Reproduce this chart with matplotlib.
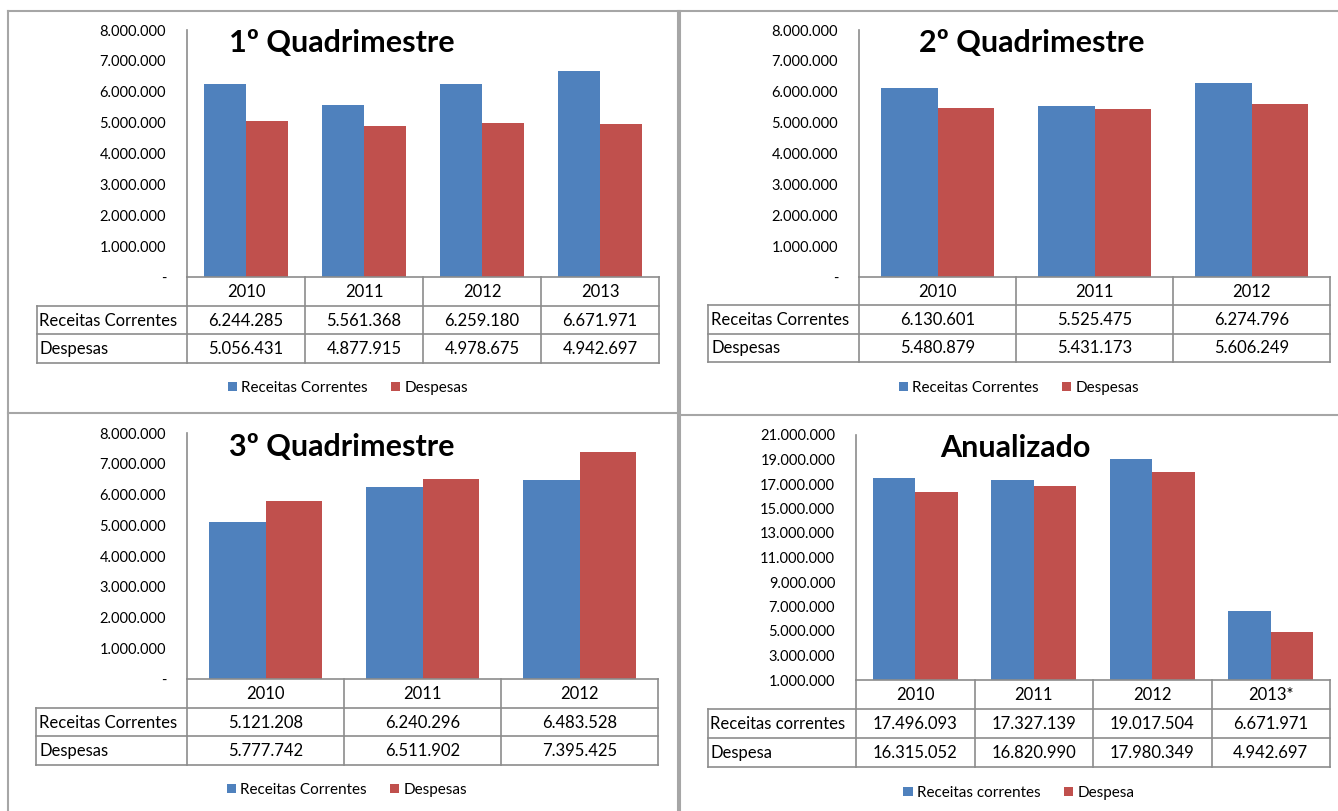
import matplotlib
matplotlib.use('Agg')
import matplotlib.pyplot as plt
from matplotlib.ticker import FuncFormatter

plt.rcParams['font.family'] = ['Lato', 'DejaVu Sans']

# dados (valores das tabelas)
anos_q1 = ['2010', '2011', '2012', '2013']
receitas_q1 = [6244285, 5561368, 6259180, 6671971]
despesas_q1 = [5056431, 4877915, 4978675, 4942697]

anos_q2 = ['2010', '2011', '2012']
receitas_q2 = [6130601, 5525475, 6274796]
despesas_q2 = [5480879, 5431173, 5606249]

anos_q3 = ['2010', '2011', '2012']
receitas_q3 = [5121208, 6240296, 6483528]
despesas_q3 = [5777742, 6511902, 7395425]

anos_anual = ['2010', '2011', '2012', '2013*']
receitas_anual = [17496093, 17327139, 19017504, 6671971]
despesas_anual = [16315052, 16820990, 17980349, 4942697]

ticks_quad = [0, 1e6, 2e6, 3e6, 4e6, 5e6, 6e6, 7e6, 8e6]
ticks_anual = [1e6, 3e6, 5e6, 7e6, 9e6, 11e6, 13e6, 15e6, 17e6, 19e6, 21e6]

AZUL = '#4F81BD'
VERMELHO = '#C0504D'
CINZA = '#8C8C8C'

W, H = 1338, 811
fig = plt.figure(figsize=(W / 100, H / 100), dpi=100)


def fmt(v):
    if v == 0:
        return '-'
    return f'{v:,.0f}'.replace(',', '.')


def px_axes(l, t, r, b):
    return fig.add_axes([l / W, 1 - b / H, (r - l) / W, (b - t) / H])


def painel(titulo, anos, rec, desp, nomes, box, ticks, titulo_xy):
    lab_l, ax_l, ax_r, top, bot, tab_b, leg_y = box
    n = len(anos)
    ax = px_axes(ax_l, top, ax_r, bot)
    x = list(range(n))
    w = 0.36
    b1 = ax.bar([i - w / 2 for i in x], rec, width=w, color=AZUL, label=nomes[0])
    b2 = ax.bar([i + w / 2 for i in x], desp, width=w, color=VERMELHO, label=nomes[1])
    ax.set_xlim(-0.5, n - 0.5)
    ax.set_ylim(ticks[0], ticks[-1])
    ax.set_yticks(ticks)
    ax.yaxis.set_major_formatter(FuncFormatter(lambda v, p: fmt(v)))
    ax.set_xticks([])
    ax.tick_params(axis='y', length=0, pad=15, labelsize=10.5)
    for s in ['top', 'right']:
        ax.spines[s].set_visible(False)
    for s in ['left', 'bottom']:
        ax.spines[s].set_color(CINZA)
        ax.spines[s].set_linewidth(1.2)

    # tabela de dados
    cw = (ax_r - ax_l) / n
    lw = (ax_l - lab_l) / cw
    tab = px_axes(lab_l, bot, ax_r, tab_b)
    tab.set_xlim(-0.5 - lw, n - 0.5)
    tab.set_ylim(3, 0)
    tab.axis('off')
    kw = dict(color=CINZA, lw=1.2, clip_on=False)
    for i in range(n + 1):
        tab.plot([i - 0.5, i - 0.5], [0, 3], **kw)
    tab.plot([-0.5 - lw, -0.5 - lw], [1, 3], **kw)
    for r in [1, 2, 3]:
        tab.plot([-0.5 - lw, n - 0.5], [r, r], **kw)
    for i, a in enumerate(anos):
        tab.text(i, 0.52, a, ha='center', va='center', fontsize=12)
        tab.text(i, 1.52, fmt(rec[i]), ha='center', va='center', fontsize=12)
        tab.text(i, 2.52, fmt(desp[i]), ha='center', va='center', fontsize=12)
    tab.text(-0.5 - lw + 0.02, 1.52, nomes[0], ha='left', va='center', fontsize=12)
    tab.text(-0.5 - lw + 0.02, 2.52, nomes[1], ha='left', va='center', fontsize=12)

    fig.legend(handles=[b1, b2], loc='center', ncol=2, frameon=False,
               bbox_to_anchor=((lab_l + ax_r) / 2 / W, 1 - leg_y / H),
               fontsize=11, handlelength=0.6, handleheight=0.6,
               handletextpad=0.3, columnspacing=1.5)
    fig.text(titulo_xy[0] / W, 1 - titulo_xy[1] / H, titulo, ha='center', va='center',
             fontsize=22, fontweight='bold')


nomes = ['Receitas Correntes', 'Despesas']
painel('1º Quadrimestre', anos_q1, receitas_q1, despesas_q1, nomes,
       (37, 187, 659, 30, 277, 363, 388), ticks_quad, (342, 43))
painel('2º Quadrimestre', anos_q2, receitas_q2, despesas_q2, nomes,
       (708, 859, 1330, 30, 277, 362, 388), ticks_quad, (1032, 43))
painel('3º Quadrimestre', anos_q3, receitas_q3, despesas_q3, nomes,
       (36, 187, 658, 433, 679, 765, 790), ticks_quad, (342, 447))
painel('Anualizado', anos_anual, receitas_anual, despesas_anual,
       ['Receitas correntes', 'Despesa'],
       (708, 856, 1330, 435, 680, 767, 793), ticks_anual, (1015, 448))

# molduras dos quadros
borda = dict(color='#A6A6A6', lw=1.5, transform=fig.transFigure)
linhas = [
    ((8, 11), (1338, 11)),
    ((8, 11), (8, 811)),
    ((678, 11), (678, 811)),
    ((680, 11), (680, 811)),
    ((8, 413), (678, 413)),
    ((680, 415), (1338, 415)),
]
for (x0, y0), (x1, y1) in linhas:
    fig.add_artist(plt.Line2D([x0 / W, x1 / W], [1 - y0 / H, 1 - y1 / H], **borda))

fig.savefig('out.png', dpi=100)
